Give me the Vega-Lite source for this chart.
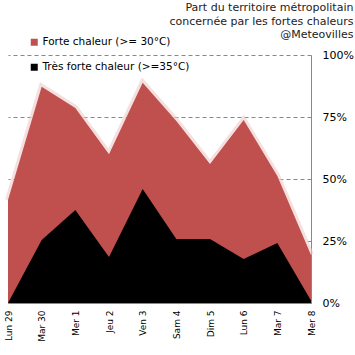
{
  "$schema": "https://vega.github.io/schema/vega-lite/v6.json",
  "autosize": "none",
  "width": 303,
  "height": 248,
  "padding": {"left": 8, "top": 55, "right": 44, "bottom": 52},
  "background": "white",
  "title": {
    "text": ["Part du territoire métropolitain", "concernée par les fortes chaleurs", "@Meteovilles"],
    "anchor": "end",
    "frame": "bounds",
    "orient": "top",
    "offset": -3,
    "font": "DejaVu Sans",
    "fontSize": 11,
    "fontWeight": "normal",
    "lineHeight": 13.5,
    "color": "#222"
  },
  "data": {
    "values": [
      {"jour": "Lun 29", "serie": "Forte chaleur (>= 30°C)", "valeur": 41.5},
      {"jour": "Mar 30", "serie": "Forte chaleur (>= 30°C)", "valeur": 87.2},
      {"jour": "Mer 1", "serie": "Forte chaleur (>= 30°C)", "valeur": 78.6},
      {"jour": "Jeu 2", "serie": "Forte chaleur (>= 30°C)", "valeur": 60},
      {"jour": "Ven 3", "serie": "Forte chaleur (>= 30°C)", "valeur": 88.8},
      {"jour": "Sam 4", "serie": "Forte chaleur (>= 30°C)", "valeur": 73.4},
      {"jour": "Dim 5", "serie": "Forte chaleur (>= 30°C)", "valeur": 56},
      {"jour": "Lun 6", "serie": "Forte chaleur (>= 30°C)", "valeur": 73.8},
      {"jour": "Mar 7", "serie": "Forte chaleur (>= 30°C)", "valeur": 51.2},
      {"jour": "Mer 8", "serie": "Forte chaleur (>= 30°C)", "valeur": 19.4},
      {"jour": "Lun 29", "serie": "Très forte chaleur (>=35°C)", "valeur": 0},
      {"jour": "Mar 30", "serie": "Très forte chaleur (>=35°C)", "valeur": 25.4},
      {"jour": "Mer 1", "serie": "Très forte chaleur (>=35°C)", "valeur": 37.5},
      {"jour": "Jeu 2", "serie": "Très forte chaleur (>=35°C)", "valeur": 18.5},
      {"jour": "Ven 3", "serie": "Très forte chaleur (>=35°C)", "valeur": 46},
      {"jour": "Sam 4", "serie": "Très forte chaleur (>=35°C)", "valeur": 25.8},
      {"jour": "Dim 5", "serie": "Très forte chaleur (>=35°C)", "valeur": 25.8},
      {"jour": "Lun 6", "serie": "Très forte chaleur (>=35°C)", "valeur": 17.7},
      {"jour": "Mar 7", "serie": "Très forte chaleur (>=35°C)", "valeur": 24.2},
      {"jour": "Mer 8", "serie": "Très forte chaleur (>=35°C)", "valeur": 1}
    ]
  },
  "encoding": {
    "x": {
      "field": "jour",
      "type": "nominal",
      "sort": null,
      "scale": {"type": "point", "padding": 0},
      "axis": {
        "title": null,
        "labelAngle": -90,
        "labelAlign": "right",
        "labelBaseline": "middle",
        "labelPadding": 7,
        "labelFont": "DejaVu Sans",
        "labelFontSize": 9,
        "labelColor": "#000",
        "ticks": false,
        "domainColor": "#888",
        "domainWidth": 1,
        "grid": false
      }
    },
    "y": {
      "field": "valeur",
      "type": "quantitative",
      "scale": {"domain": [0, 100]},
      "axis": {
        "title": null,
        "orient": "right",
        "values": [0, 25, 50, 75, 100],
        "labelExpr": "datum.value + '%'",
        "labelPadding": 11,
        "labelFont": "DejaVu Sans",
        "labelFontSize": 11,
        "labelColor": "#000",
        "ticks": false,
        "domainColor": "#888",
        "grid": true,
        "gridColor": "#888",
        "gridDash": [4, 3],
        "gridWidth": 1
      }
    }
  },
  "layer": [
    {
      "transform": [{"filter": "datum.serie === 'Forte chaleur (>= 30°C)'"}],
      "mark": {"type": "line", "color": "#efcccc", "strokeWidth": 6, "opacity": 0.6},
      "encoding": {}
    },
    {
      "mark": {"type": "area", "line": false},
      "encoding": {
        "y": {"field": "valeur", "type": "quantitative", "stack": null},
        "color": {
          "field": "serie",
          "type": "nominal",
          "scale": {"domain": ["Forte chaleur (>= 30°C)", "Très forte chaleur (>=35°C)"], "range": ["#C0504D", "#000000"]},
          "legend": {
            "title": null,
            "orient": "none",
            "legendX": 21,
            "legendY": -18,
            "symbolType": "square",
            "symbolSize": 49,
            "symbolStrokeWidth": 0,
            "symbolOpacity": 1,
            "labelFont": "DejaVu Sans",
            "labelFontSize": 10.5,
            "labelColor": "#000",
            "labelOffset": 3,
            "rowPadding": 14,
            "labelLimit": 300
          }
        }
      }
    }
  ],
  "config": {"view": {"stroke": null}}
}
